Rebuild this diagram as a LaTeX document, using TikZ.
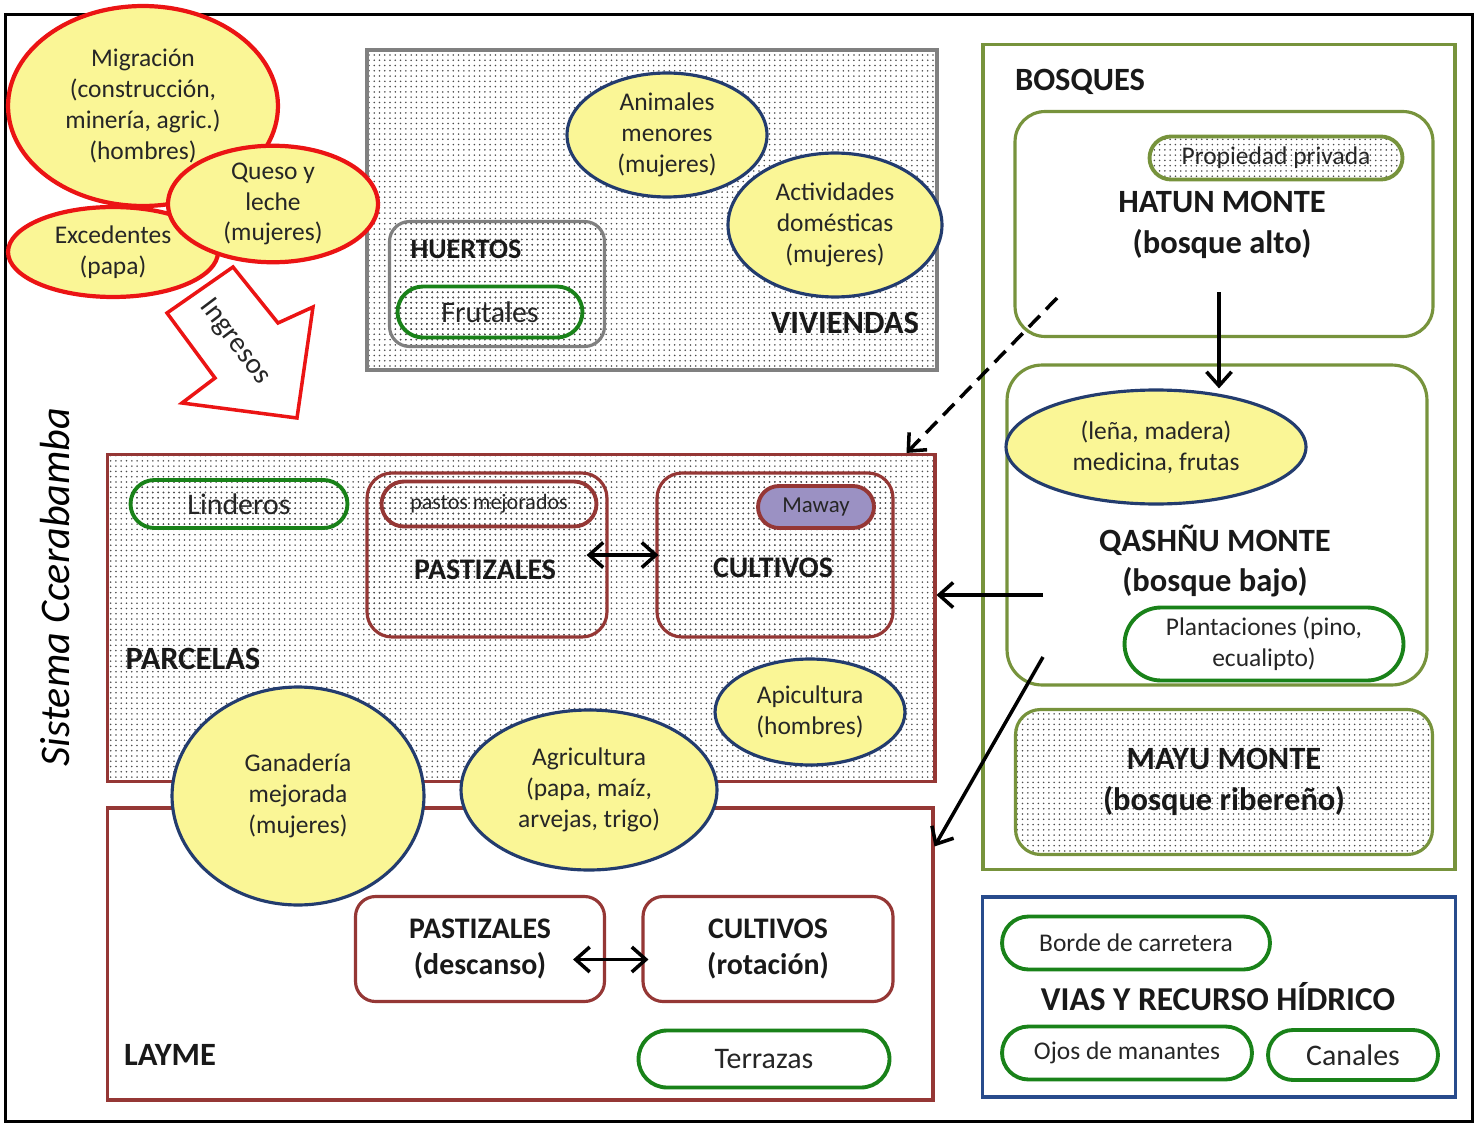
\documentclass[tikz,border=0pt]{standalone}
\usepackage{fontspec}
\setmainfont{Carlito}
\usetikzlibrary{shapes.geometric,shapes.misc,patterns,arrows.meta}

\definecolor{yel}{RGB}{250,246,150}
\definecolor{redline}{RGB}{235,20,20}
\definecolor{navy}{RGB}{35,60,110}
\definecolor{olive}{RGB}{119,147,60}
\definecolor{grn}{RGB}{25,130,25}
\definecolor{brick}{RGB}{149,55,53}
\definecolor{road}{RGB}{40,75,140}
\definecolor{lav}{RGB}{155,145,195}

\tikzset{
  txt/.style={font=\fontsize{14.5}{17.5}\selectfont, align=center, text=black!85},
  head/.style={font=\fontsize{18.5}{23}\selectfont\bfseries, align=center, text=black!90},
  oval/.style={ellipse, draw=navy, fill=yel, line width=1.8pt, inner sep=0pt, txt},
  redoval/.style={oval, draw=redline, line width=2.4pt},
  pill/.style={rounded rectangle, draw=grn, line width=2.2pt, inner sep=0pt, txt},
  zone/.style={rectangle, line width=1.8pt, inner sep=0pt},
  dotty/.style={pattern=dots, pattern color=black!70},
  link/.style={line width=2pt, -{Straight Barb[length=2.8mm,width=5mm]}},
  both/.style={line width=2pt, {Straight Barb[length=2.8mm,width=5mm]}-{Straight Barb[length=2.8mm,width=5mm]}},
}

\begin{document}
\begin{tikzpicture}[x=0.02cm, y=-0.02cm]
    \useasboundingbox (0,0) rectangle (1480,1125);

    % outer frame
    \node[zone, draw=black, minimum width=29.36cm, minimum height=22.14cm] (frame) at (739,568) {};
    \node[font=\fontsize{24}{28}\selectfont\itshape, rotate=90] (sistema) at (55,587) {Sistema Ccerabamba};

    % viviendas
    \node[zone, draw=gray, dotty, minimum width=11.4cm, minimum height=6.4cm] (viviendas) at (652,210) {};
    \node[zone, draw=gray, dotty, rounded corners=0.4cm, minimum width=4.3cm, minimum height=2.5cm] (huertos) at (497,284) {};
    \node[head, font=\fontsize{16}{20}\selectfont\bfseries] (huertoslab) at (466,249) {HUERTOS};
    \node[pill, dotty, font=\fontsize{17}{20}\selectfont, minimum width=3.7cm, minimum height=1.02cm] (frutales) at (490,312) {Frutales};
    \node[oval, minimum width=4.0cm, minimum height=2.48cm] (animales) at (667,135) {Animales\\menores\\(mujeres)};
    \node[oval, minimum width=4.28cm, minimum height=2.88cm] (domesticas) at (835,225) {Actividades\\domésticas\\(mujeres)};
    \node[head] (vivlab) at (845,323) {VIVIENDAS};

    % ingresos
    \node[redoval, minimum width=5.4cm, minimum height=4.0cm] (migracion) at (143,106) {Migración\\(construcción,\\minería, agric.)\\(hombres)};
    \node[redoval, minimum width=4.2cm, minimum height=1.8cm] (excedentes) at (113,252) {Excedentes\\(papa)};
    \node[redoval, minimum width=4.2cm, minimum height=2.24cm] (queso) at (273,204) {Queso y\\leche\\(mujeres)};
    \draw[redline, line width=2pt, fill=white] (167,313) -- (233,267) -- (278,323) -- (313,307)
        -- (297,418) -- (182,403) -- (215,378) -- cycle;
    \node[txt, font=\fontsize{16.5}{20}\selectfont, rotate=-53] (ingresos) at (235,342) {Ingresos};

    % bosques
    \node[zone, draw=olive, minimum width=9.44cm, minimum height=16.5cm] (bosques) at (1219,457) {};
    \node[head] (bosqueslab) at (1080,82) {BOSQUES};
    \node[zone, draw=olive, fill=white, rounded corners=0.6cm, minimum width=8.36cm, minimum height=4.5cm] (hatun) at (1224,224) {};
    \node[pill, draw=olive, dotty, minimum width=5.06cm, minimum height=0.86cm] (privada) at (1276,158) {Propiedad privada};
    \node[head] (hatunlab) at (1222,225) {HATUN MONTE\\(bosque alto)};
    \node[zone, draw=olive, fill=white, rounded corners=0.7cm, minimum width=8.4cm, minimum height=6.4cm] (qashnu) at (1217,525) {};
    \node[oval, minimum width=6.0cm, minimum height=2.28cm] (lena) at (1156,447) {(leña, madera)\\medicina, frutas};
    \node[head] (qashnulab) at (1215,561) {QASHÑU MONTE\\(bosque bajo)};
    \node[pill, minimum width=5.58cm, minimum height=1.46cm] (plantaciones) at (1264,644) {Plantaciones (pino,\\ecualipto)};
    \node[zone, draw=olive, dotty, rounded corners=0.5cm, minimum width=8.34cm, minimum height=2.9cm] (mayu) at (1224,782) {};
    \node[head] (mayulab) at (1224,782) {MAYU MONTE\\(bosque ribereño)};

    % vias y recurso hidrico
    \node[zone, draw=road, minimum width=9.46cm, minimum height=4.0cm] (vias) at (1219,997) {};
    \node[pill, minimum width=5.36cm, minimum height=1.06cm] (borde) at (1136,943) {Borde de carretera};
    \node[head, font=\fontsize{19}{23}\selectfont\bfseries] (viaslab) at (1218,997) {VIAS Y RECURSO HÍDRICO};
    \node[pill, minimum width=5.0cm, minimum height=1.06cm] (ojos) at (1127,1053) {Ojos de manantes};
    \node[pill, font=\fontsize{17}{20}\selectfont, minimum width=3.4cm, minimum height=1.0cm] (canales) at (1353,1055) {Canales};

    % parcelas
    \node[zone, draw=brick, dotty, minimum width=16.56cm, minimum height=6.54cm] (parcelas) at (521,618) {};
    \node[pill, dotty, font=\fontsize{17}{20}\selectfont, minimum width=4.34cm, minimum height=0.96cm] (linderos) at (239,504) {Linderos};
    \node[zone, draw=brick, dotty, rounded corners=0.5cm, minimum width=4.8cm, minimum height=3.28cm] (pastbox) at (487,555) {};
    \node[pill, draw=brick, dotty, font=\fontsize{12.5}{15}\selectfont, minimum width=4.3cm, minimum height=0.9cm] (pastos) at (489,504) {pastos mejorados};
    \node[head, font=\fontsize{17}{21}\selectfont\bfseries] (pastlab) at (485,570) {PASTIZALES};
    \node[zone, draw=brick, dotty, rounded corners=0.5cm, minimum width=4.72cm, minimum height=3.28cm] (cultbox) at (775,555) {};
    \node[pill, draw=brick, fill=lav, font=\fontsize{13}{15}\selectfont, minimum width=2.32cm, minimum height=0.84cm] (maway) at (816,507) {Maway};
    \node[head, font=\fontsize{17}{21}\selectfont\bfseries] (cultlab) at (773,568) {CULTIVOS};
    \node[head] (parcelaslab) at (193,659) {PARCELAS};
    \node[oval, minimum width=3.8cm, minimum height=2.12cm] (apicultura) at (810,712) {Apicultura\\(hombres)};

    % layme
    \node[zone, draw=brick, fill=white, minimum width=16.52cm, minimum height=5.84cm] (layme) at (520,954) {};
    \node[oval, minimum width=5.04cm, minimum height=4.36cm] (ganaderia) at (298,796) {Ganadería\\mejorada\\(mujeres)};
    \node[oval, minimum width=5.12cm, minimum height=3.2cm] (agricultura) at (589,790) {Agricultura\\(papa, maíz,\\arvejas, trigo)};
    \node[zone, draw=brick, rounded corners=0.4cm, minimum width=4.98cm, minimum height=2.1cm,
          head, font=\fontsize{17}{21}\selectfont\bfseries] (pastdesc) at (480,949) {PASTIZALES\\(descanso)};
    \node[zone, draw=brick, rounded corners=0.4cm, minimum width=5.0cm, minimum height=2.1cm,
          head, font=\fontsize{17}{21}\selectfont\bfseries] (cultrot) at (768,949) {CULTIVOS\\(rotación)};
    \node[head] (laymelab) at (170,1055) {LAYME};
    \node[pill, font=\fontsize{17}{20}\selectfont, minimum width=5.02cm, minimum height=1.14cm] (terrazas) at (764,1059) {Terrazas};

    % connectors
    \coordinate (hatunout) at (1219,292);
    \coordinate (dashout) at (1057,298);
    \coordinate (qashout1) at (1043,595);
    \coordinate (qashout2) at (1043,657);
    \draw[link] (hatunout) -- (hatunout |- lena.north);
    \draw[link, dash pattern=on 9pt off 5pt] (dashout) -- ([xshift=-0.6cm]parcelas.north east);
    \draw[link] (qashout1) -- (qashout1 -| parcelas.east);
    \draw[link] (qashout2) -- ([yshift=-0.8cm]layme.north east);
    \draw[both] ([xshift=-0.44cm]pastbox.east) -- ([xshift=0.06cm]cultbox.west);
    \draw[both] ([xshift=-0.66cm, yshift=-0.21cm]pastdesc.east) -- ([xshift=0.14cm, yshift=-0.21cm]cultrot.west);
\end{tikzpicture}
\end{document}
